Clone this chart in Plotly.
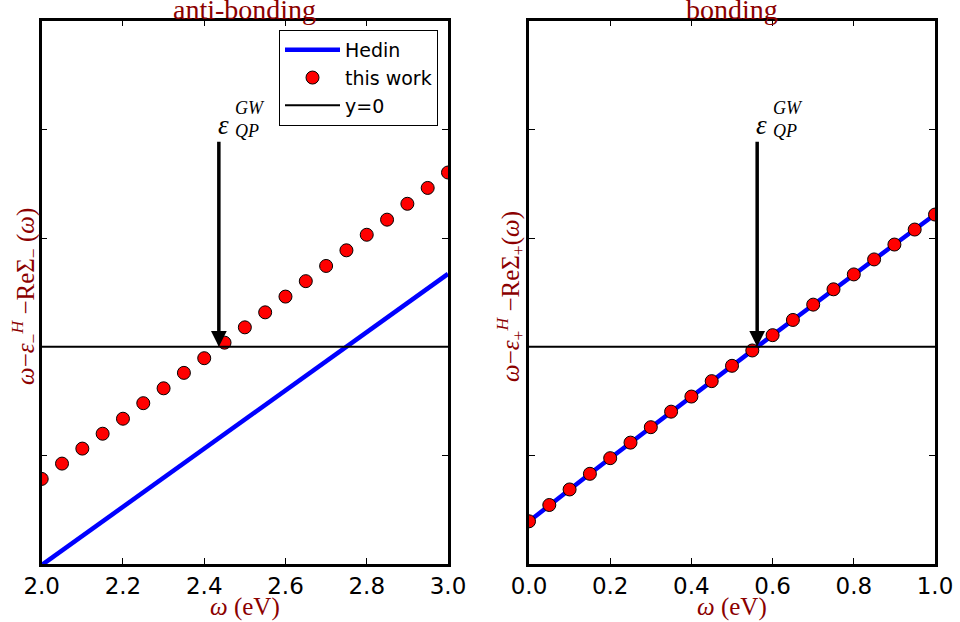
import plotly.graph_objects as go
from plotly.subplots import make_subplots

# ---------------- data ----------------
omega_anti = [2.00, 2.05, 2.10, 2.15, 2.20, 2.25, 2.30, 2.35, 2.40, 2.45, 2.50,
              2.55, 2.60, 2.65, 2.70, 2.75, 2.80, 2.85, 2.90, 2.95, 3.00]
hedin_anti = [-2.010, -1.876, -1.742, -1.608, -1.474, -1.340, -1.206, -1.072, -0.938, -0.804, -0.670,
              -0.536, -0.402, -0.268, -0.134, 0.000, 0.134, 0.268, 0.402, 0.536, 0.670]
work_anti = [-1.217, -1.076, -0.938, -0.801, -0.663, -0.520, -0.383, -0.241, -0.106, 0.037, 0.178,
             0.316, 0.461, 0.603, 0.743, 0.887, 1.030, 1.169, 1.315, 1.461, 1.603]

omega_bond = [0.00, 0.05, 0.10, 0.15, 0.20, 0.25, 0.30, 0.35, 0.40, 0.45, 0.50,
              0.55, 0.60, 0.65, 0.70, 0.75, 0.80, 0.85, 0.90, 0.95, 1.00]
hedin_bond = [-1.607, -1.457, -1.314, -1.170, -1.026, -0.883, -0.741, -0.598, -0.459, -0.317, -0.176,
              -0.035, 0.106, 0.246, 0.387, 0.528, 0.665, 0.803, 0.940, 1.078, 1.216]
work_bond = [-1.607, -1.457, -1.314, -1.170, -1.026, -0.883, -0.741, -0.598, -0.459, -0.317, -0.176,
             -0.035, 0.106, 0.246, 0.387, 0.528, 0.665, 0.803, 0.940, 1.078, 1.216]

xrange_anti = [2.0, 3.0]
xrange_bond = [0.0, 1.0]
yrange = [-2.0, 3.0]
qp_anti = 2.436   # quasiparticle energy (arrow position)
qp_bond = 0.562
arrow_top = 1.9

xticks_anti = [2.0, 2.2, 2.4, 2.6, 2.8, 3.0]
xticks_bond = [0.0, 0.2, 0.4, 0.6, 0.8, 1.0]

panel_titles = ["anti-bonding", "bonding"]
legend_names = ["Hedin", "this work", "y=0"]

DARKRED = "#8b0000"
SERIF = "Liberation Serif, Times New Roman, serif"
SANS = "DejaVu Sans, sans-serif"

fig = make_subplots(rows=1, cols=2)

panels = [
    (omega_anti, hedin_anti, work_anti, xrange_anti, True),
    (omega_bond, hedin_bond, work_bond, xrange_bond, False),
]
for i, (om, he, wk, xr, show) in enumerate(panels, start=1):
    fig.add_trace(go.Scatter(x=om, y=he, mode="lines", name=legend_names[0],
                             line=dict(color="blue", width=4.5), showlegend=show),
                  row=1, col=i)
    fig.add_trace(go.Scatter(x=om, y=wk, mode="markers", name=legend_names[1],
                             marker=dict(color="red", size=13, line=dict(color="black", width=1)),
                             showlegend=show),
                  row=1, col=i)
    fig.add_trace(go.Scatter(x=xr, y=[0, 0], mode="lines", name=legend_names[2],
                             line=dict(color="black", width=2), showlegend=show),
                  row=1, col=i)

axis_common = dict(showline=True, linewidth=2.5, linecolor="black", mirror="ticks",
                   ticks="inside", ticklen=6, tickwidth=1, tickcolor="black",
                   showgrid=False, zeroline=False, automargin=False)

fig.update_xaxes(**axis_common, tickfont=dict(family=SANS, size=23, color="black"),
                 tickformat=".1f")
fig.update_yaxes(**axis_common, showticklabels=False, range=yrange, dtick=1)

fig.update_layout(
    xaxis=dict(domain=[41.7 / 960, 448 / 960], range=xrange_anti, tickvals=xticks_anti),
    xaxis2=dict(domain=[529 / 960, 935 / 960], range=xrange_bond, tickvals=xticks_bond),
    yaxis=dict(domain=[1 - 564 / 622, 1 - 20.7 / 622]),
    yaxis2=dict(domain=[1 - 564 / 622, 1 - 20.7 / 622]),
)

annotations = []
# panel titles
for cx, t in [((41.7 + 448) / 2, panel_titles[0]), ((529 + 935) / 2, panel_titles[1])]:
    annotations.append(dict(x=cx / 960, y=1 - 27 / 622, xref="paper", yref="paper",
                            text=t, showarrow=False, xanchor="center", yanchor="bottom",
                            font=dict(family=SERIF, size=28, color=DARKRED)))
# x-axis titles
for cx in [(41.7 + 448) / 2, (529 + 935) / 2]:
    annotations.append(dict(x=cx / 960, y=1 - 607 / 622, xref="paper", yref="paper",
                            text="<i>ω</i> (eV)", showarrow=False, xanchor="center", yanchor="middle",
                            font=dict(family=SERIF, size=25, color=DARKRED)))
# y-axis titles
ytitles = [
    (25, "<i>ω</i>−<i>ε</i><sub>−</sub><sup><i>H</i></sup> −ReΣ<sub>−</sub> (<i>ω</i>)"),
    (510, "<i>ω</i>−<i>ε</i><sub>+</sub><sup><i>H</i></sup> −ReΣ<sub>+</sub>(<i>ω</i>)"),
]
for px, t in ytitles:
    annotations.append(dict(x=px / 960, y=1 - 297 / 622, xref="paper", yref="paper",
                            text=t, showarrow=False, textangle=-90,
                            xanchor="center", yanchor="middle",
                            font=dict(family=SERIF, size=25, color=DARKRED)))
# arrows and epsilon labels
for xa, xr_, yr_ in [(qp_anti, "x", "y"), (qp_bond, "x2", "y2")]:
    annotations.append(dict(x=xa, y=0, ax=xa, ay=arrow_top, xref=xr_, yref=yr_,
                            axref=xr_, ayref=yr_, text="", showarrow=True,
                            arrowhead=2, arrowsize=0.9, arrowwidth=3.5, arrowcolor="black",
                            standoff=0, startstandoff=0))
    annotations.append(dict(x=xa, y=2.04, xref=xr_, yref=yr_, text="<i>ε</i>",
                            showarrow=False, xanchor="left", yanchor="middle", xshift=-3,
                            font=dict(family=SERIF, size=27, color="black")))
    annotations.append(dict(x=xa, y=2.09, xref=xr_, yref=yr_, text="<i>GW</i><br><i>QP</i>",
                            showarrow=False, xanchor="left", yanchor="middle", xshift=14,
                            align="left",
                            font=dict(family=SERIF, size=18, color="black")))

fig.update_layout(
    width=960, height=622,
    margin=dict(l=0, r=0, t=0, b=0),
    paper_bgcolor="white", plot_bgcolor="white",
    annotations=annotations,
    legend=dict(x=438 / 960, y=1 - 30 / 622, xanchor="right", yanchor="top",
                bgcolor="white", bordercolor="black", borderwidth=1,
                font=dict(family=SANS, size=19, color="black"),
                itemwidth=55),
)

fig.write_html("out.html")
